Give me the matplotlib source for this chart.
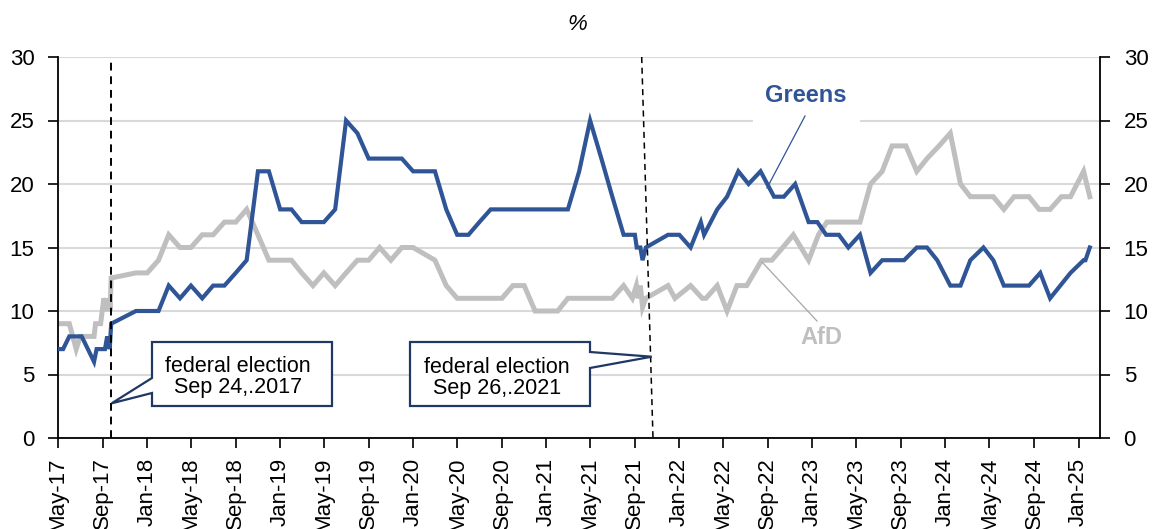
import matplotlib
matplotlib.use('Agg')
import matplotlib.pyplot as plt
import pandas as pd
from matplotlib.patches import Polygon, Rectangle
from matplotlib.lines import Line2D

plt.rcParams['font.family'] = ['Liberation Sans', 'DejaVu Sans']

# ---------------- data ----------------
greens_dates = [
    '2017-05-01', '2017-05-15', '2017-06-01', '2017-06-20', '2017-07-05', '2017-07-22',
    '2017-08-08', '2017-08-15', '2017-09-07', '2017-09-13', '2017-09-20', '2017-09-24',
    '2017-12-01', '2018-02-01', '2018-03-01', '2018-04-01', '2018-05-01', '2018-06-01',
    '2018-07-01', '2018-08-01', '2018-09-01', '2018-10-01', '2018-11-01', '2018-12-01',
    '2019-01-01', '2019-02-01', '2019-03-01', '2019-05-01', '2019-06-01', '2019-07-01',
    '2019-08-01', '2019-09-01', '2019-12-01', '2020-01-01', '2020-03-01', '2020-04-01',
    '2020-05-01', '2020-06-01', '2020-07-01', '2020-08-01', '2021-03-01', '2021-04-01',
    '2021-05-01', '2021-06-01', '2021-07-01', '2021-08-01', '2021-09-01', '2021-09-06',
    '2021-09-16', '2021-09-22', '2021-10-01', '2021-12-01', '2022-01-01', '2022-02-01',
    '2022-03-01', '2022-03-10', '2022-04-15', '2022-05-12', '2022-06-12', '2022-07-10',
    '2022-08-12', '2022-09-18', '2022-10-15', '2022-11-15', '2022-12-22', '2023-01-15',
    '2023-02-08', '2023-03-15', '2023-04-10', '2023-05-12', '2023-06-10', '2023-07-12',
    '2023-09-10', '2023-10-15', '2023-11-12', '2023-12-10', '2024-01-15', '2024-02-12',
    '2024-03-10', '2024-04-15', '2024-05-12', '2024-06-10', '2024-08-18', '2024-09-18',
    '2024-10-15', '2024-11-12', '2024-12-10', '2025-01-15', '2025-01-20', '2025-02-01',
]
greens_values = [
    7, 7, 8, 8, 8, 7,
    6, 7, 7, 8, 7, 9,
    10, 10, 12, 11, 12, 11,
    12, 12, 13, 14, 21, 21,
    18, 18, 17, 17, 18, 25,
    24, 22, 22, 21, 21, 18,
    16, 16, 17, 18, 18, 21,
    25, 22, 19, 16, 16, 15,
    15, 14, 15, 16, 16, 15,
    17, 16, 18, 19, 21, 20,
    21, 19, 19, 20, 17, 17,
    16, 16, 15, 16, 13, 14,
    14, 15, 15, 14, 12, 12,
    14, 15, 14, 12, 12, 13,
    11, 12, 13, 14, 14, 15,
]

afd_dates = [
    '2017-05-01', '2017-06-01', '2017-06-20', '2017-07-01', '2017-08-08', '2017-08-12',
    '2017-08-26', '2017-09-04', '2017-09-13', '2017-09-18', '2017-09-21', '2017-09-24',
    '2017-12-01', '2018-01-01', '2018-02-01', '2018-03-01', '2018-04-01', '2018-05-01',
    '2018-06-01', '2018-07-01', '2018-08-01', '2018-09-01', '2018-10-01', '2018-11-01',
    '2018-12-01', '2019-02-01', '2019-03-01', '2019-04-01', '2019-05-01', '2019-06-01',
    '2019-07-01', '2019-08-01', '2019-09-01', '2019-10-01', '2019-11-01', '2019-12-01',
    '2020-01-01', '2020-03-01', '2020-04-01', '2020-05-01', '2020-09-01', '2020-10-01',
    '2020-11-01', '2020-12-01', '2021-02-01', '2021-03-01', '2021-07-01', '2021-08-01',
    '2021-08-25', '2021-09-05', '2021-09-10', '2021-09-16', '2021-09-22', '2021-10-01',
    '2021-12-01', '2021-12-20', '2022-02-01', '2022-03-05', '2022-03-15', '2022-04-15',
    '2022-05-12', '2022-06-08', '2022-07-05', '2022-08-15', '2022-09-12', '2022-10-12',
    '2022-11-10', '2022-12-22', '2023-01-18', '2023-02-10', '2023-04-10', '2023-05-12',
    '2023-06-10', '2023-07-12', '2023-08-08', '2023-09-15', '2023-10-15', '2023-11-12',
    '2023-12-15', '2024-01-15', '2024-02-12', '2024-03-10', '2024-05-12', '2024-06-10',
    '2024-07-08', '2024-08-18', '2024-09-15', '2024-10-15', '2024-11-15', '2024-12-10',
    '2025-01-15', '2025-02-01',
]
afd_values = [
    9, 9, 7, 8, 8, 9,
    9, 11, 10, 11, 10, 12.6,
    13, 13, 14, 16, 15, 15,
    16, 16, 17, 17, 18, 16,
    14, 14, 13, 12, 13, 12,
    13, 14, 14, 15, 14, 15,
    15, 14, 12, 11, 11, 12,
    12, 10, 10, 11, 11, 12,
    11, 12, 11, 12, 10.3, 11,
    12, 11, 12, 11, 11, 12,
    10, 12, 12, 14, 14, 15,
    16, 14, 16, 17, 17, 17,
    20, 21, 23, 23, 21, 22,
    23, 24, 20, 19, 19, 18,
    19, 19, 18, 18, 19, 19,
    21, 19,
]

tick_labels = ['May-17', 'Sep-17', 'Jan-18', 'May-18', 'Sep-18', 'Jan-19', 'May-19',
               'Sep-19', 'Jan-20', 'May-20', 'Sep-20', 'Jan-21', 'May-21', 'Sep-21',
               'Jan-22', 'May-22', 'Sep-22', 'Jan-23', 'May-23', 'Sep-23', 'Jan-24',
               'May-24', 'Sep-24', 'Jan-25']
election_2017 = '2017-09-24'

# ---------------- figure ----------------
W, H = 1156, 529
fig = plt.figure(figsize=(W / 100, H / 100), dpi=100)
ax = fig.add_axes([58 / W, 1 - 438 / H, (1100 - 58) / W, (438 - 57) / H])


def fp(x, y):
    """reference pixel -> figure fraction"""
    return x / W, 1 - y / H


gd = pd.to_datetime(greens_dates)
ad = pd.to_datetime(afd_dates)
ax.plot(gd, greens_values, color='#2F5597', lw=3.0, solid_joinstyle='miter', zorder=3)
ax.plot(ad, afd_values, color='#BFBFBF', lw=3.6, solid_joinstyle='miter', zorder=2.5)

ax.set_ylim(0, 30)
ax.set_yticks(range(0, 31, 5))
ax.set_xlim(pd.Timestamp('2017-05-01'), pd.Timestamp('2025-03-01'))
tick_dates = pd.to_datetime(tick_labels, format='%b-%y')
ax.set_xticks(tick_dates)
ax.set_xticklabels(tick_labels, rotation=90, fontsize=16)
ax.tick_params(axis='y', which='both', left=True, right=True, labelleft=True,
               labelright=True, direction='out', length=7, width=1.2, labelsize=16, pad=10)
ax.tick_params(axis='x', direction='out', length=7, width=1.2, pad=7)
ax.yaxis.grid(True, color='#D9D9D9', lw=1.5)
ax.set_axisbelow(True)
for s in ['left', 'right', 'bottom']:
    ax.spines[s].set_linewidth(1.3)
    ax.spines[s].set_color('black')
ax.spines['top'].set_visible(False)

# election lines
ax.axvline(pd.Timestamp(election_2017), color='black', lw=1.4, ls=(0, (4, 3)), zorder=4)
x1, y1 = fp(641.7, 57)
x2, y2 = fp(653, 438)
fig.add_artist(Line2D([x1, x2], [y1, y2], transform=fig.transFigure, color='black',
                      lw=1.1, ls=(0, (4, 3)), zorder=4))

# callout boxes
edge = '#1F3864'
pts1 = [(152, 342), (332, 342), (332, 406), (152, 406), (152, 393), (111.7, 403.3), (152, 378)]
fig.add_artist(Polygon([fp(*p) for p in pts1], closed=True, transform=fig.transFigure,
                       facecolor='white', edgecolor=edge, lw=1.6, zorder=5))
fig.text(*fp(238, 377), 'federal election\nSep 24,.2017', ha='center', va='center',
         fontsize=15.5, linespacing=1.05, zorder=6)
pts2 = [(410, 342), (590, 342), (590, 352), (651.7, 356.7), (590, 368), (590, 406), (410, 406)]
fig.add_artist(Polygon([fp(*p) for p in pts2], closed=True, transform=fig.transFigure,
                       facecolor='white', edgecolor=edge, lw=1.6, zorder=5))
fig.text(*fp(497, 378), 'federal election\nSep 26,.2021', ha='center', va='center',
         fontsize=15.5, linespacing=1.05, zorder=6)

# series labels
fig.add_artist(Rectangle(fp(753, 130), (860 - 753) / W, 60 / H, transform=fig.transFigure,
                         facecolor='white', edgecolor='none', zorder=1.5))
fig.text(*fp(806, 96), 'Greens', color='#2F5597', fontsize=17, fontweight='bold',
         ha='center', va='center', zorder=6)
gx1, gy1 = fp(805, 116)
gx2, gy2 = fp(767, 188)
fig.add_artist(Line2D([gx1, gx2], [gy1, gy2], transform=fig.transFigure, color='#2F5597',
                      lw=0.9, zorder=6))
fig.text(*fp(821, 338), 'AfD', color='#BFBFBF', fontsize=17, fontweight='bold',
         ha='center', va='center', zorder=6)
ax1_, ay1_ = fp(817, 321)
ax2_, ay2_ = fp(762, 262)
fig.add_artist(Line2D([ax1_, ax2_], [ay1_, ay2_], transform=fig.transFigure, color='#A6A6A6',
                      lw=0.9, zorder=6))

fig.text(*fp(577, 25), '%', fontsize=16, fontstyle='italic', ha='center', va='center')

fig.savefig('out.png', dpi=100)
